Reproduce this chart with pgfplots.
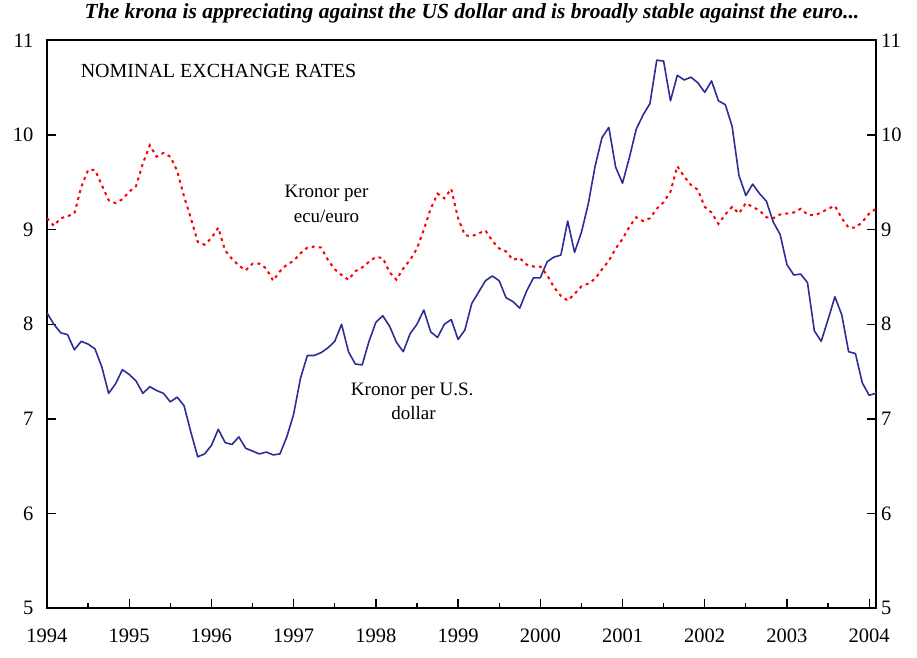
\documentclass[border=0pt]{standalone}
\usepackage{pgfplots}
\pgfplotsset{compat=1.18}
\usepackage{pgfplotstable}
\usepackage{fontspec}
\setmainfont{Liberation Serif}
\definecolor{usdblue}{RGB}{45,45,150}
\definecolor{eurred}{RGB}{255,0,0}

\pgfplotstableread{
i v
0 8.12
1 8.00
2 7.91
3 7.89
4 7.73
5 7.82
6 7.79
7 7.74
8 7.55
9 7.27
10 7.37
11 7.52
12 7.47
13 7.40
14 7.27
15 7.34
16 7.30
17 7.27
18 7.18
19 7.23
20 7.14
21 6.86
22 6.60
23 6.63
24 6.72
25 6.89
26 6.75
27 6.73
28 6.81
29 6.69
30 6.66
31 6.63
32 6.65
33 6.62
34 6.63
35 6.81
36 7.05
37 7.43
38 7.67
39 7.67
40 7.70
41 7.75
42 7.82
43 8.00
44 7.71
45 7.58
46 7.57
47 7.82
48 8.02
49 8.09
50 7.98
51 7.81
52 7.71
53 7.90
54 8.00
55 8.15
56 7.92
57 7.86
58 8.00
59 8.05
60 7.84
61 7.94
62 8.22
63 8.34
64 8.46
65 8.51
66 8.46
67 8.28
68 8.24
69 8.17
70 8.35
71 8.49
72 8.49
73 8.66
74 8.71
75 8.73
76 9.09
77 8.76
78 8.97
79 9.27
80 9.67
81 9.97
82 10.08
83 9.66
84 9.49
85 9.76
86 10.06
87 10.21
88 10.33
89 10.79
90 10.78
91 10.36
92 10.63
93 10.58
94 10.61
95 10.55
96 10.45
97 10.57
98 10.36
99 10.32
100 10.09
101 9.57
102 9.36
103 9.48
104 9.38
105 9.30
106 9.08
107 8.95
108 8.63
109 8.52
110 8.53
111 8.44
112 7.93
113 7.82
114 8.05
115 8.29
116 8.10
117 7.71
118 7.69
119 7.38
120 7.25
121 7.27
122 7.55
}\usdtab

\pgfplotstableread{
i v
0 9.12
1 9.04
2 9.12
3 9.14
4 9.17
5 9.45
6 9.63
7 9.63
8 9.47
9 9.31
10 9.28
11 9.32
12 9.40
13 9.46
14 9.70
15 9.89
16 9.77
17 9.81
18 9.77
19 9.62
20 9.35
21 9.12
22 8.87
23 8.84
24 8.91
25 9.02
26 8.78
27 8.69
28 8.62
29 8.57
30 8.64
31 8.64
32 8.59
33 8.46
34 8.56
35 8.63
36 8.67
37 8.75
38 8.81
39 8.82
40 8.81
41 8.68
42 8.58
43 8.52
44 8.47
45 8.56
46 8.60
47 8.66
48 8.71
49 8.70
50 8.55
51 8.47
52 8.59
53 8.68
54 8.80
55 9.00
56 9.22
57 9.38
58 9.33
59 9.43
60 9.12
61 8.94
62 8.93
63 8.96
64 8.99
65 8.88
66 8.80
67 8.77
68 8.68
69 8.70
70 8.63
71 8.61
72 8.61
73 8.52
74 8.39
75 8.30
76 8.25
77 8.32
78 8.40
79 8.43
80 8.48
81 8.58
82 8.67
83 8.80
84 8.90
85 9.03
86 9.13
87 9.09
88 9.12
89 9.22
90 9.29
91 9.40
92 9.67
93 9.56
94 9.47
95 9.42
96 9.24
97 9.18
98 9.06
99 9.16
100 9.24
101 9.17
102 9.28
103 9.24
104 9.20
105 9.13
106 9.12
107 9.16
108 9.17
109 9.18
110 9.22
111 9.16
112 9.15
113 9.18
114 9.22
115 9.25
116 9.12
117 9.02
118 9.02
119 9.08
120 9.17
121 9.22
}\eurtab

\begin{document}
\begin{tikzpicture}
\begin{axis}[
  width=829pt, height=568pt, scale only axis,
  xmin=0, xmax=121, ymin=5, ymax=11,
  xtick={0,12,...,120},
  xticklabels={1994,1995,1996,1997,1998,1999,2000,2001,2002,2003,2004},
  minor xtick={6,18,...,114},
  ytick={5,6,...,11},
  tick align=inside,
  xtick pos=bottom,
  ytick pos=both,
  yticklabel pos=left,
  major tick length=9pt, minor tick length=5pt,
  every tick/.style={black, line width=1.3pt},
  axis line style={black, line width=2pt},
  tick label style={font=\fontsize{20.5}{24}\selectfont},
  /pgf/number format/assume math mode=true,
  yticklabel style={xshift=-10pt},
  xticklabel style={yshift=-17pt},
  clip mode=individual,
  title={\bfseries\itshape The krona is appreciating against the US dollar and is broadly stable against the euro...},
  title style={at={(0.5127,1)}, anchor=base, yshift=16pt, font=\fontsize{21.5}{24}\selectfont},
]
\coordinate (sw) at (rel axis cs:0,0);
\addplot[usdblue, line width=1.6pt, line join=round] table[x=i,y=v]{\usdtab};
\addplot[eurred, line width=2pt, dash pattern=on 3pt off 4pt] table[x=i,y=v]{\eurtab};
\node[anchor=base west, inner sep=0pt, font=\fontsize{20}{24}\selectfont] at (axis cs:4.9,10.606) {NOMINAL EXCHANGE RATES};
\node[anchor=base, inner sep=0pt, font=\fontsize{19}{24}\selectfont] at (axis cs:40.8,9.342) {Kronor per};
\node[anchor=base, inner sep=0pt, font=\fontsize{19}{24}\selectfont] at (axis cs:40.8,9.078) {ecu/euro};
\node[anchor=base, inner sep=0pt, font=\fontsize{19}{24}\selectfont] at (axis cs:53.3,7.25) {Kronor per U.S.};
\node[anchor=base, inner sep=0pt, font=\fontsize{19}{24}\selectfont] at (axis cs:53.5,6.997) {dollar};
\end{axis}
\begin{axis}[
  width=829pt, height=568pt, scale only axis,
  xmin=0, xmax=121, ymin=5, ymax=11,
  xtick=\empty,
  ytick={5,6,...,11},
  yticklabel pos=right,
  ytick style={draw=none},
  axis line style={draw=none},
  tick label style={font=\fontsize{20.5}{24}\selectfont},
  /pgf/number format/assume math mode=true,
  yticklabel style={anchor=west, inner sep=0pt, xshift=5pt},
]
\end{axis}
\path (sw) ++(-47pt,-49pt) rectangle ++(917pt,657pt);
\end{tikzpicture}
\end{document}
